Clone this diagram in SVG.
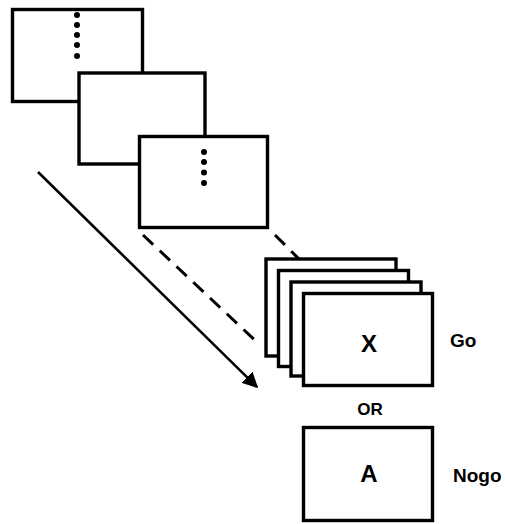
<svg xmlns="http://www.w3.org/2000/svg" width="505" height="524" viewBox="0 0 505 524">
  <style>
    .frame { fill: #ffffff; stroke: #000000; stroke-width: 3.4; }
    .dot { fill: #000000; }
    .dash { stroke: #000000; stroke-width: 3; stroke-dasharray: 14 9; fill: none; }
    .arrow { stroke: #000000; stroke-width: 2.6; fill: none; }
    .lbl { font-family: "Liberation Sans", Arial, sans-serif; font-weight: bold; fill: #000000; }
  </style>
  <defs>
    <marker id="head" viewBox="0 0 10 10" refX="9" refY="5" markerWidth="6" markerHeight="6" markerUnits="strokeWidth" orient="auto">
      <path d="M0,0 L10,5 L0,10 Z" fill="#000000"/>
    </marker>
  </defs>
  <rect width="505" height="524" fill="#ffffff"/>

  <!-- fixation sequence -->
  <g id="screen1">
    <rect class="frame" x="12.5" y="9.5" width="130" height="92"/>
    <circle class="dot" cx="77" cy="15" r="3"/>
    <circle class="dot" cx="77" cy="25" r="3"/>
    <circle class="dot" cx="77" cy="35" r="3"/>
    <circle class="dot" cx="77" cy="45" r="3"/>
    <circle class="dot" cx="77" cy="56" r="3"/>
  </g>
  <g id="screen2">
    <rect class="frame" x="79" y="73" width="126" height="91"/>
  </g>
  <g id="screen3">
    <rect class="frame" x="139.5" y="136.5" width="128" height="91"/>
    <circle class="dot" cx="204" cy="152" r="3"/>
    <circle class="dot" cx="204" cy="162" r="3"/>
    <circle class="dot" cx="204" cy="172.5" r="3"/>
    <circle class="dot" cx="204" cy="183" r="3"/>
  </g>

  <!-- connectors -->
  <g id="connectors">
    <line class="dash" x1="143" y1="235" x2="260" y2="345"/>
    <line class="dash" x1="275" y1="235" x2="299" y2="259"/>
    <line class="arrow" x1="38" y1="172" x2="257" y2="387" marker-end="url(#head)"/>
  </g>

  <!-- Go stimulus stack -->
  <g id="go-stack">
    <rect class="frame" x="266" y="259" width="130" height="97"/>
    <rect class="frame" x="278.5" y="270.5" width="130" height="96"/>
    <rect class="frame" x="291" y="282" width="130" height="94"/>
    <rect class="frame" x="303.5" y="293.5" width="129" height="92"/>
    <text class="lbl" x="369" y="352" font-size="24" text-anchor="middle">X</text>
  </g>
  <g id="go-label">
    <text class="lbl" x="450" y="347" font-size="19">Go</text>
  </g>

  <g id="or-label">
    <text class="lbl" x="370" y="415" font-size="17" text-anchor="middle">OR</text>
  </g>

  <!-- Nogo stimulus -->
  <g id="nogo-screen">
    <rect class="frame" x="303.5" y="427.5" width="129" height="93"/>
    <text class="lbl" x="369" y="482" font-size="24" text-anchor="middle">A</text>
  </g>
  <g id="nogo-label">
    <text class="lbl" x="453" y="482" font-size="19">Nogo</text>
  </g>
</svg>
